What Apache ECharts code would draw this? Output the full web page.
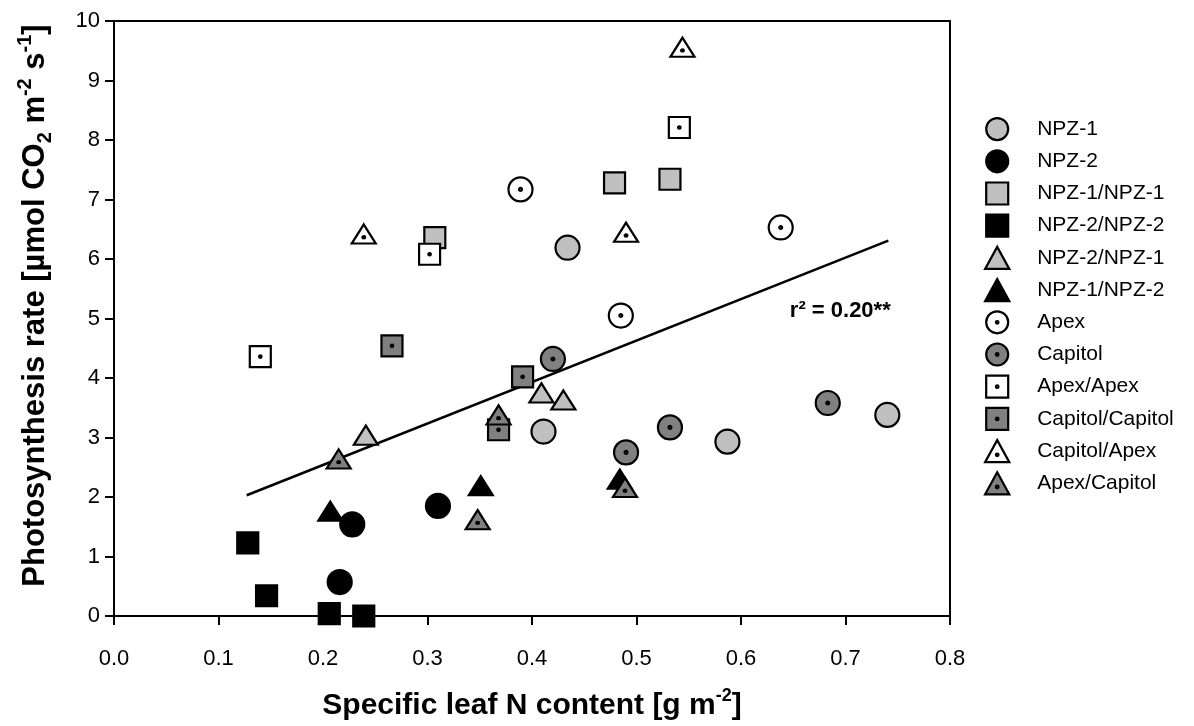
<!DOCTYPE html>
<html>
<head>
<meta charset="utf-8">
<script src="https://cdn.jsdelivr.net/npm/echarts@6/dist/echarts.min.js"></script>
<style>
html,body{margin:0;padding:0;background:#fff;}
#chart{width:1194px;height:726px;}
</style>
</head>
<body>
<div id="chart"></div>
<script>
// ---- data (x: specific leaf N content, y: photosynthesis rate) ----
const seriesNames = ['NPZ-1','NPZ-2','NPZ-1/NPZ-1','NPZ-2/NPZ-2','NPZ-2/NPZ-1','NPZ-1/NPZ-2',
  'Apex','Capitol','Apex/Apex','Capitol/Capitol','Capitol/Apex','Apex/Capitol'];
const npz1 = [[0.434,6.19],[0.411,3.10],[0.587,2.93],[0.740,3.38]];
const npz2 = [[0.228,1.54],[0.216,0.57],[0.310,1.85]];
const npz1_npz1 = [[0.307,6.36],[0.479,7.28],[0.532,7.34]];
const npz2_npz2 = [[0.128,1.23],[0.146,0.34],[0.206,0.04],[0.239,0.00]];
const npz2_npz1 = [[0.241,3.04],[0.409,3.75],[0.430,3.63]];
const npz1_npz2 = [[0.207,1.76],[0.351,2.19],[0.484,2.30]];
const apex = [[0.389,7.17],[0.485,5.05],[0.638,6.53]];
const capitol = [[0.420,4.32],[0.532,3.17],[0.490,2.75],[0.683,3.58]];
const apex_apex = [[0.140,4.36],[0.302,6.08],[0.541,8.21]];
const capitol_capitol = [[0.266,4.54],[0.391,4.02],[0.368,3.13]];
const capitol_apex = [[0.239,6.42],[0.490,6.45],[0.544,9.56]];
const apex_capitol = [[0.215,2.64],[0.368,3.38],[0.348,1.62],[0.489,2.16]];
const regression = [[0.127,2.03],[0.741,6.31]];
const r2Label = 'r² = 0.20**';
const r2Pos = [0.695, 5.12];
const xTickLabels = ['0.0','0.1','0.2','0.3','0.4','0.5','0.6','0.7','0.8'];

// ---- styling ----
const FONT = '"Liberation Sans", Arial, sans-serif';
const LIGHT = '#c0c0c0', DARK = '#808080', BLACK = '#000000', WHITE = '#ffffff';
const plainCircle = 'circle';
const plainRect = 'path://M0,0L20,0L20,20L0,20Z';
const plainTri = 'path://M11,0L22,20L0,20Z';
const dotCircle = 'path://M0,10A10,10,0,1,1,20,10A10,10,0,1,1,0,10ZM8.8,10A1.2,1.2,0,1,1,11.2,10A1.2,1.2,0,1,1,8.8,10Z';
const dotRect = 'path://M0,0L20,0L20,20L0,20ZM8.8,10A1.2,1.2,0,1,1,11.2,10A1.2,1.2,0,1,1,8.8,10Z';
const dotTri = 'path://M11,0L22,20L0,20ZM9.8,13.4A1.2,1.2,0,1,1,12.2,13.4A1.2,1.2,0,1,1,9.8,13.4Z';

const CIRC = 24, SQ = 21, TRI = [24, 21];
const defs = [
  {data: npz1, symbol: plainCircle, size: CIRC, fill: LIGHT},
  {data: npz2, symbol: plainCircle, size: CIRC, fill: BLACK},
  {data: npz1_npz1, symbol: plainRect, size: SQ, fill: LIGHT},
  {data: npz2_npz2, symbol: plainRect, size: SQ, fill: BLACK},
  {data: npz2_npz1, symbol: plainTri, size: TRI, fill: LIGHT},
  {data: npz1_npz2, symbol: plainTri, size: TRI, fill: BLACK},
  {data: apex, symbol: dotCircle, size: CIRC, fill: WHITE},
  {data: capitol, symbol: dotCircle, size: CIRC, fill: DARK},
  {data: apex_apex, symbol: dotRect, size: SQ, fill: WHITE},
  {data: capitol_capitol, symbol: dotRect, size: SQ, fill: DARK},
  {data: capitol_apex, symbol: dotTri, size: TRI, fill: WHITE},
  {data: apex_capitol, symbol: dotTri, size: TRI, fill: DARK}
];

const series = [{
  name: 'regression',
  type: 'line',
  data: regression,
  symbol: 'none',
  lineStyle: {color: BLACK, width: 2.5},
  z: 1,
  silent: true
}];
defs.forEach((d, i) => {
  series.push({
    name: seriesNames[i],
    type: 'scatter',
    data: d.data,
    symbol: d.symbol,
    symbolSize: d.size,
    symbolKeepAspect: true,
    clip: false,
    z: 2 + i,
    itemStyle: {color: d.fill, borderColor: BLACK, borderWidth: 2.2, opacity: 1}
  });
});

const chart = echarts.init(document.getElementById('chart'), null, {renderer: 'canvas'});
const xTitleRich = {
  b: {fontSize: 30, fontWeight: 'bold', fontFamily: FONT, color: BLACK, lineHeight: 38},
  sup: {fontSize: 18, fontWeight: 'bold', fontFamily: FONT, color: BLACK, verticalAlign: 'top'}
};
const yTitleRich = {
  b: {fontSize: 31, fontWeight: 'bold', fontFamily: FONT, color: BLACK, lineHeight: 40},
  sub: {fontSize: 20, fontWeight: 'bold', fontFamily: FONT, color: BLACK, verticalAlign: 'bottom'},
  sup: {fontSize: 20, fontWeight: 'bold', fontFamily: FONT, color: BLACK, verticalAlign: 'top'}
};
chart.setOption({
  animation: false,
  backgroundColor: '#fff',
  grid: {left: 114, right: 244, top: 21, bottom: 105, show: true, borderColor: BLACK, borderWidth: 2, backgroundColor: 'transparent'},
  xAxis: {
    type: 'value', min: 0, max: 0.8, interval: 0.1,
    splitLine: {show: false},
    axisLine: {lineStyle: {color: BLACK, width: 2}},
    axisTick: {inside: false, length: 9, lineStyle: {color: BLACK, width: 2}},
    axisLabel: {color: BLACK, fontSize: 22, fontFamily: FONT, margin: 32,
      formatter: (v) => xTickLabels[Math.round(v * 10)]},
    name: '{b|Specific leaf N content [g m}{sup|-2}{b|]}',
    nameLocation: 'middle', nameGap: 71,
    nameTextStyle: {rich: xTitleRich}
  },
  yAxis: {
    type: 'value', min: 0, max: 10, interval: 1,
    splitLine: {show: false},
    axisLine: {lineStyle: {color: BLACK, width: 2}},
    axisTick: {inside: false, length: 9, lineStyle: {color: BLACK, width: 2}},
    axisLabel: {color: BLACK, fontSize: 22, fontFamily: FONT, margin: 14},
    name: '{b|Photosynthesis rate [µmol CO}{sub|2}{b| m}{sup|-2}{b| s}{sup|-1}{b|]}',
    nameLocation: 'middle', nameGap: 59, nameRotate: 90,
    nameTextStyle: {rich: yTitleRich, padding: [0, 0, 0, 26]}
  },
  legend: {
    orient: 'vertical', left: 979, top: 112,
    itemWidth: 70, itemHeight: 22, itemGap: 8,
    data: seriesNames,
    selectedMode: false,
    symbolKeepAspect: true,
    textStyle: {fontSize: 21, fontFamily: FONT, color: BLACK, lineHeight: 22},
    itemStyle: {borderColor: BLACK, borderWidth: 2.2}
  },
  series: series
});

const p = chart.convertToPixel({gridIndex: 0}, r2Pos);
chart.setOption({
  graphic: [{
    type: 'text', x: p[0], y: p[1],
    style: {text: r2Label, fontSize: 22, fontWeight: 'bold', fontFamily: FONT, fill: BLACK, align: 'center', verticalAlign: 'middle'}
  }]
});
</script>
</body>
</html>
